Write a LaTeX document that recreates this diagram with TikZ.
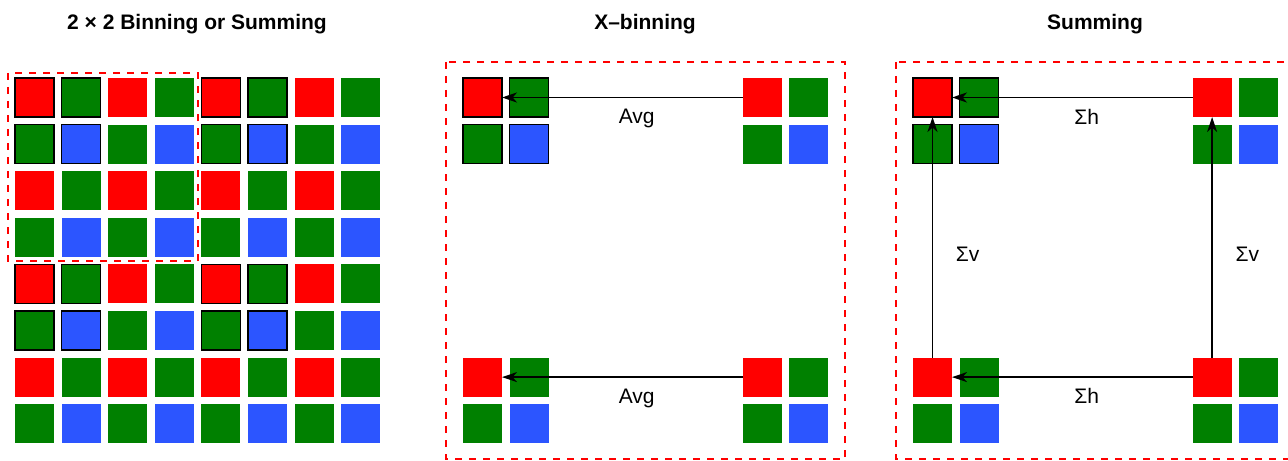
\documentclass[tikz,border=0pt]{standalone}
\usepackage{fontspec}
\setmainfont{Liberation Sans}
\usepackage{xcolor}
\usepackage{tikz}
\usetikzlibrary{arrows.meta}

\definecolor{bayerR}{RGB}{255,0,0}
\definecolor{bayerG}{RGB}{0,128,0}
\definecolor{bayerB}{RGB}{44,85,255}

\begin{document}
\begin{tikzpicture}[
			x=0.5pt, y=-0.5pt,
			font=\fontsize{10.5}{12}\selectfont,
			pix/.style={minimum size=19.5pt, inner sep=0pt, outer sep=0pt},
			bare/.style={},
			ring/.style={draw=black, line width=0.8pt},
			panel/.style={red, dash pattern=on 3.5pt off 3.5pt, line width=0.75pt},
			title/.style={font=\fontsize{10.5}{12}\selectfont\bfseries},
			flow/.style={-{Stealth[length=7.5pt, width=5pt, inset=2.2pt]}, line width=0.8pt}
			]
			\useasboundingbox (0,0) rectangle (1288,460);
			\def\pitch{46.6}
			% Titles
			\node[title] (t-bin) at (197,24.5) {2 × 2 Binning or Summing};
			\node[title] (t-x) at (645,24.5) {X–binning};
			\node[title] (t-sum) at (1095,24.5) {Summing};
			% Full sensor
			\foreach \r in {0,...,7}{
				\foreach \c in {0,...,7}{
					\pgfmathtruncatemacro{\k}{2*mod(\r,2)+mod(\c,2)}
					\ifcase\k \def\col{bayerR}\or\def\col{bayerG}\or\def\col{bayerG}\else\def\col{bayerB}\fi
					\pgfmathtruncatemacro{\hl}{and(mod(\r,4)<2, mod(\c,4)<2)}
					\ifnum\hl=1 \def\edge{ring}\else\def\edge{bare}\fi
					\node[pix, fill=\col, \edge] (L-\r-\c) at (34.5+\pitch*\c, 97.5+\pitch*\r) {};
				}
			}
			\draw[panel] (8,73) rectangle (198,261);
			% X-binning and Summing panels
			\foreach \p/\xo in {X/482.5, S/932.5}{
				\foreach \r in {0,1,6,7}{
					\foreach \c in {0,1,6,7}{
						\pgfmathtruncatemacro{\k}{2*mod(\r,2)+mod(\c,2)}
						\ifcase\k \def\col{bayerR}\or\def\col{bayerG}\or\def\col{bayerG}\else\def\col{bayerB}\fi
						\pgfmathtruncatemacro{\hl}{and(\r<2, \c<2)}
						\ifnum\hl=1 \def\edge{ring}\else\def\edge{bare}\fi
						\node[pix, fill=\col, \edge] (\p-\r-\c) at (\xo+\pitch*\c, 97.5+\pitch*\r) {};
					}
				}
			}
			\draw[panel] (446,62) rectangle (845,459);
			\draw[panel] (896,62) rectangle (1295,459);
			% X-binning: average along rows
			\draw[flow] (X-0-6.west) -- (X-0-0.east) node[pos=0.44, below=2pt] {Avg};
			\draw[flow] (X-6-6.west) -- (X-6-0.east) node[pos=0.44, below=2pt] {Avg};
			% Summing: horizontal and vertical sums
			\draw[flow] (S-0-6.west) -- (S-0-0.east) node[pos=0.44, below=2pt] {Σh};
			\draw[flow] (S-6-6.west) -- (S-6-0.east) node[pos=0.44, below=2pt] {Σh};
			\draw[flow] (S-6-0.north) -- (S-0-0.south) node[pos=0.43, right=8pt] {Σv};
			\draw[flow] (S-6-6.north) -- (S-0-6.south) node[pos=0.43, right=8pt] {Σv};
		\end{tikzpicture}
\end{document}
